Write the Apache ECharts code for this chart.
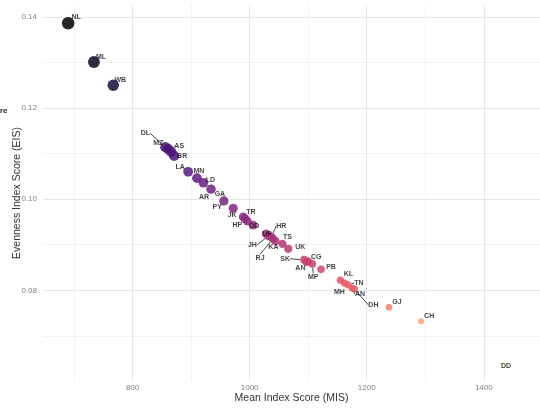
<!DOCTYPE html>
<html>
<head>
<meta charset="utf-8">
<script src="https://cdn.jsdelivr.net/npm/echarts@6/dist/echarts.min.js"></script>
<style>
  html, body { margin: 0; padding: 0; background: #ffffff; }
  #chart { width: 540px; height: 413px; }
</style>
</head>
<body>
<div id="chart"></div>
<script>
// State / UT codes, ordered by Mean Index Score
const codes = ['NL','ML','WB','DL','MZ','AS','BR','LA','MN','LD','AR','GA','PY','JK','TR','HP','OD',
  'UP','JH','HR','RJ','KA','TS','UK','SK','AN','CG','MP','PB','KL','MH','TN','AN','DH','GJ','CH','DD'];

// Mean Index Score (MIS)
const mis = [690,734,767,856,861,866,871,895,910,921,934,956,972,989,992,996,1006,
  1028,1032,1037,1040,1044,1056,1066,1093,1097,1100,1107,1122,1155,1162,1168,1175,1179,1238,1293,1438];

// Evenness Index Score (EIS)
const eis = [0.1386,0.1301,0.1250,0.1114,0.1110,0.1104,0.1095,0.1060,0.1046,0.1036,0.1022,0.0996,0.0980,0.0961,0.0957,0.0952,0.0943,
  0.0924,0.0919,0.0917,0.0913,0.0908,0.0902,0.0891,0.0867,0.0862,0.0864,0.0858,0.0846,0.0822,0.0816,0.0812,0.0805,0.0803,0.0763,0.0732,0.0639];

// Axis ticks and labels
const xTicks = [700,800,900,1000,1100,1200,1300,1400];
const xLabels = [800,1000,1200,1400];
const yTicks = [0.07,0.08,0.09,0.10,0.11,0.12,0.13,0.14];
const yLabels = [0.08,0.10,0.12,0.14];

// Label placement (pixel offset of each text label from its point) and which labels get a leader line
const labelNudge = [[8,-6],[7,-5],[7,-5],[-20,-14],[-10,-6],[8,-6],[8,0],[-8,-5],[2,-7],[7,-3],[-7,8],[-4,-7],[-16,-1],[-11,-2],[6,-7],[-10,4],[1,1],
  [1,0],[-16,9],[10,-11],[-13,19],[-2,6],[5,-7],[12,-2],[-19,-1],[-6,6],[8,-4],[1,13],[10,-2],[8,-6],[-5,9],[11,-2],[8,6],[19,16],[8,-5],[8,-5],[0,2]];
const leader = [false,false,false,true,false,true,false,false,false,false,false,false,false,false,false,false,false,
  false,true,true,true,false,false,false,true,false,false,true,false,false,false,true,true,true,false,false,false];

const magma = ['#000004','#140e36','#3b0f70','#641a80','#8c2981','#b73779','#de4968','#f7705c','#fe9f6d','#fecf92','#fcfdbf'];

const eMin = Math.min(...eis), eMax = Math.max(...eis);
function dotSize(v) {
  // area grows linearly with EIS
  const t = (v[1] - eMin) / (eMax - eMin);
  const dMin = 4.5, dMax = 12.5;
  return Math.sqrt(dMin * dMin + t * (dMax * dMax - dMin * dMin));
}

const points = codes.map((c, i) => [mis[i], eis[i], c]);
const labelData = codes.map((c, i) => ({
  value: [mis[i], eis[i], c],
  labelLine: { show: leader[i] }
}));

const font = "'Liberation Sans', Arial, sans-serif";
const chart = echarts.init(document.getElementById('chart'), null, { renderer: 'canvas' });

chart.setOption({
  backgroundColor: '#ffffff',
  animation: false,
  grid: { left: 43, right: 0, top: 5, bottom: 32, outerBoundsMode: 'none', containLabel: false },
  xAxis: {
    type: 'value', min: 647, max: 1496,
    name: 'Mean Index Score (MIS)', nameLocation: 'middle', nameGap: 12, nameMoveOverlap: false,
    nameTextStyle: { fontFamily: font, fontSize: 10.5, color: '#333333', verticalAlign: 'top' },
    axisLine: { show: false },
    axisTick: { show: false, customValues: xTicks },
    axisLabel: { customValues: xLabels, formatter: v => String(v), fontFamily: font, fontSize: 8, color: '#808080', margin: 3 },
    splitLine: { show: true, lineStyle: { color: ['#f2f2f2', '#e6e6e6'], width: 1 } }
  },
  yAxis: {
    type: 'value', min: 0.0601, max: 0.1426,
    name: 'Evenness Index Score (EIS)', nameLocation: 'middle', nameGap: 20, nameMoveOverlap: false,
    nameTextStyle: { fontFamily: font, fontSize: 10.5, color: '#333333' },
    axisLine: { show: false },
    axisTick: { show: false, customValues: yTicks },
    axisLabel: { customValues: yLabels, formatter: v => v.toFixed(2), fontFamily: font, fontSize: 8, color: '#808080', margin: 6 },
    splitLine: { show: true, lineStyle: { color: ['#f2f2f2', '#e6e6e6'], width: 1 } }
  },
  visualMap: {
    show: false, type: 'continuous', seriesIndex: 0, dimension: 0,
    min: Math.min(...mis), max: Math.max(...mis),
    inRange: { color: magma }
  },
  graphic: [{
    type: 'text', left: 0, top: 107,
    style: { text: 're', font: 'bold 8px ' + font, fill: '#222222' }
  }],
  series: [
    {
      type: 'scatter',
      data: points,
      symbolSize: dotSize,
      itemStyle: { opacity: 0.85 },
      z: 2
    },
    {
      type: 'scatter',
      data: labelData,
      symbolSize: dotSize,
      itemStyle: { color: 'rgba(0,0,0,0)' },
      z: 3,
      label: {
        show: true, position: 'inside',
        formatter: p => p.value[2],
        fontFamily: font, fontSize: 7, fontWeight: 'bold', color: '#111111'
      },
      labelLine: { show: false, lineStyle: { color: '#1a1a1a', width: 0.8 } },
      labelLayout: p => ({ dx: labelNudge[p.dataIndex][0], dy: labelNudge[p.dataIndex][1] })
    }
  ]
});
</script>
</body>
</html>
